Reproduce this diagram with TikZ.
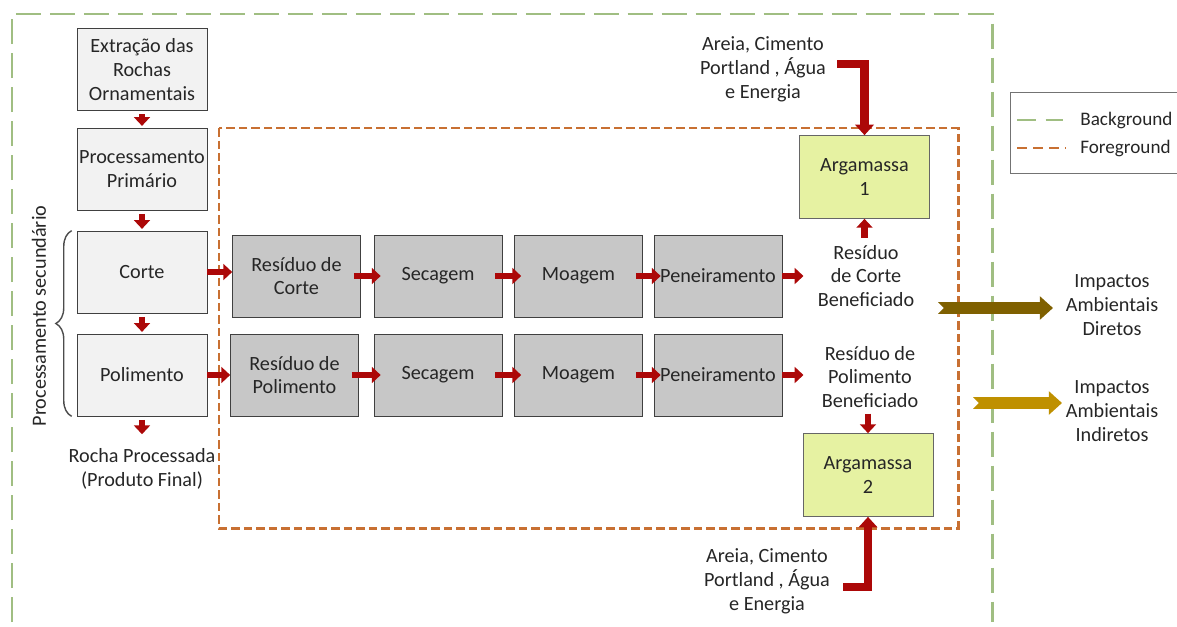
\documentclass[tikz,border=0pt]{standalone}
\usepackage{fontspec}
\setmainfont{Carlito}
\usetikzlibrary{arrows.meta,positioning,decorations.pathreplacing}
\definecolor{arrred}{RGB}{172,8,8}
\definecolor{bggreen}{RGB}{160,190,130}
\definecolor{fgorange}{RGB}{200,112,50}
\definecolor{argyel}{RGB}{230,242,162}
\definecolor{impdir}{RGB}{127,96,0}
\definecolor{impind}{RGB}{191,144,0}
\tikzset{
	lbox/.style={draw=black!75,fill=black!5,rectangle,align=center,minimum width=2.6cm,minimum height=1.64cm,inner sep=0.5pt},
	gbox/.style={draw=black!75,fill=black!22,rectangle,align=center,minimum width=2.56cm,minimum height=1.64cm,inner sep=0.5pt},
	ybox/.style={draw=black!60,fill=argyel,rectangle,align=center,minimum width=2.6cm,minimum height=1.66cm,inner sep=1pt},
	txt/.style={align=center,inner sep=0pt},
	ra/.style={draw=arrred,line width=3.8pt,-{Triangle[length=5pt,width=9pt]}},
	rah/.style={ra,shorten <=-4pt,shorten >=-4pt},
	bigra/.style={draw=arrred,line width=4.8pt,-{Triangle[length=6pt,width=10.5pt]}},
	bg/.style={draw=bggreen,line width=1.7pt,dash pattern=on 0.5cm off 0.18cm},
	fg/.style={draw=fgorange,line width=1.7pt,dash pattern=on 0.17cm off 0.08cm},
	imp/.style={line width=6.8pt,{Triangle Cap[reversed]}-{Triangle[length=7.5pt,width=13pt]}},
	legtxt/.style={anchor=west,inner sep=0pt,font=\fontsize{10.9}{13}\selectfont},
	every node/.style={font=\fontsize{11.5}{13.6}\selectfont,text=black!85}
}
\begin{document}
\begin{tikzpicture}[x=0.02cm,y=-0.02cm]
	\useasboundingbox (0,0) rectangle (1177,626);
	\draw[bg] (12,622) -- (12,14) -- (992,14) -- (992,622);
	\draw[fg] (219,128) rectangle (958,528);

	\node[lbox] (ext) at (142,69.5) {Extração das\\Rochas\\Ornamentais};
	\node[lbox] (prim) at (142,169) {Processamento\\Primário};
	\node[lbox] (corte) at (142,272) {Corte};
	\node[lbox] (pol) at (142,375) {Polimento};
	\node[txt] (rocha) at (142,469) {Rocha Processada\\(Produto Final)};
	\node[txt,rotate=90] (sec) at (39,316) {Processamento secundário};
	\draw[decorate,decoration={brace,amplitude=9pt},black!70,thick] ([xshift=-0.1cm]pol.south west) -- ([xshift=-0.1cm]corte.north west);

	\node[gbox] (resc) at (296.5,276) {Resíduo de\\Corte};
	\node[gbox] (sec1) at (438,276) {Secagem};
	\node[gbox] (moa1) at (578.5,276) {Moagem};
	\node[gbox] (pen1) at (718,276) {Peneiramento};
	\node[gbox] (resp) at (294.5,375) {Resíduo de\\Polimento};
	\node[gbox] (sec2) at (438,375) {Secagem};
	\node[gbox] (moa2) at (578.5,375) {Moagem};
	\node[gbox] (pen2) at (718,375) {Peneiramento};

	\node[txt] (bcorte) at (866,276) {Resíduo\\de Corte\\Beneficiado};
	\node[txt] (bpol) at (870,377) {Resíduo de\\Polimento\\Beneficiado};
	\node[ybox] (arg1) at (864.5,177) {Argamassa\\1};
	\node[ybox] (arg2) at (868,475) {Argamassa\\2};
	\node[txt] (in1) at (763,69) {Areia, Cimento\\Portland , Água\\e Energia};
	\node[txt] (in2) at (767,581) {Areia, Cimento\\Portland , Água\\e Energia};
	\node[coordinate] (c1) at (837,64) {};
	\node[coordinate] (c2) at (843,587) {};

	\node[txt] (imp1) at (1112,305) {Impactos\\Ambientais\\Diretos};
	\node[txt] (imp2) at (1112,411) {Impactos\\Ambientais\\Indiretos};
	\node[coordinate] (d1) at (938,308) {};
	\node[coordinate] (d2) at (973,403) {};

	\draw[black!55] (1010,92) rectangle (1195,173);
	\draw[bg,dash pattern=on 0.37cm off 0.2cm] (1017,120) -- (1063,120);
	\draw[fg,dash pattern=on 0.2cm off 0.12cm] (1017,148) -- (1066,148);
	\node[legtxt] (lbg) at (1080,120) {Background};
	\node[legtxt] (lfg) at (1080,148) {Foreground};

	\draw[ra,shorten <=2pt,shorten >=1pt] (ext) -- (prim);
	\draw[ra,shorten <=2pt,shorten >=1pt] (prim) -- (corte);
	\draw[ra,shorten <=2pt,shorten >=1pt] (corte) -- (pol);
	\draw[ra,shorten <=2pt,shorten >=8pt] (pol) -- (rocha);
	\draw[ra] (corte.east) -- (corte.east -| resc.west);
	\draw[ra] (pol.east) -- (pol.east -| resp.west);
	\draw[rah] (resc) -- (sec1);
	\draw[rah] (sec1) -- (moa1);
	\draw[rah] (moa1) -- (pen1);
	\draw[rah] (resp) -- (sec2);
	\draw[rah] (sec2) -- (moa2);
	\draw[rah] (moa2) -- (pen2);
	\draw[ra,shorten >=0.28cm] (pen1.east) -- (pen1.east -| bcorte.west);
	\draw[ra,shorten >=0.36cm] (pen2.east) -- (pen2.east -| bpol.west);
	\draw[ra,shorten <=4pt] (arg1.south |- bcorte.north) -- (arg1.south);
	\draw[ra,shorten <=3pt] (arg2.north |- bpol.south) -- (arg2.north);
	\draw[bigra] (c1) -| (arg1.north);
	\draw[bigra] (c2) -| (arg2.south);
	\draw[imp,draw=impdir] (d1) -- ++(115,0);
	\draw[imp,draw=impind] (d2) -- ++(89,0);
\end{tikzpicture}
\end{document}
